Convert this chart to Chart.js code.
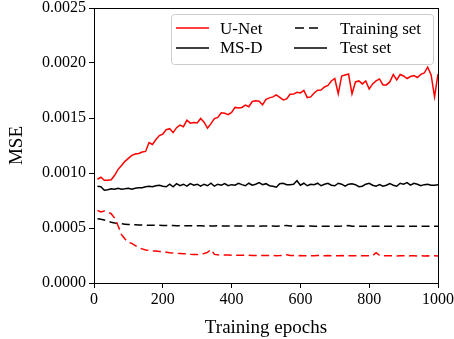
<!DOCTYPE html>
<html>
<head>
<meta charset="utf-8">
<script src="https://cdn.jsdelivr.net/npm/chart.js@4.4.0/dist/chart.umd.min.js"></script>
<style>
  html, body { margin:0; padding:0; background:#fff; }
  canvas { display:block; }
</style>
</head>
<body>
<canvas id="mseChart" width="454" height="339"></canvas>
<script>
'use strict';

/* ── DATA ──────────────────────────────────── */
const epochs = [10,20,30,40,50,60,70,80,90,100,110,120,130,140,150,160,170,180,190,200,
  210,220,230,240,250,260,270,280,290,300,310,320,330,340,350,360,370,380,390,400,
  410,420,430,440,450,460,470,480,490,500,510,520,530,540,550,560,570,580,590,600,
  610,620,630,640,650,660,670,680,690,700,710,720,730,740,750,760,770,780,790,800,
  810,820,830,840,850,860,870,880,890,900,910,920,930,940,950,960,970,980,990,1000];

const unetTest = [0.000943,0.000961,0.000934,0.000934,0.000939,0.000979,0.001033,0.001069,0.001106,0.001133,
  0.00116,0.001173,0.001178,0.001191,0.001196,0.001277,0.001259,0.001304,0.00134,0.001354,
  0.001394,0.001403,0.001367,0.001412,0.001435,0.001421,0.00148,0.001453,0.00146,0.001455,
  0.001496,0.001462,0.001408,0.001449,0.001494,0.001505,0.001548,0.001543,0.00153,0.001551,
  0.001596,0.00159,0.001596,0.001617,0.001602,0.00165,0.001656,0.001652,0.00162,0.00167,
  0.001683,0.001692,0.00171,0.001688,0.001665,0.001674,0.001715,0.001717,0.001733,0.001728,
  0.001751,0.001686,0.001692,0.001728,0.001753,0.001755,0.001782,0.001796,0.001837,0.001859,
  0.001719,0.001882,0.001891,0.0019,0.001719,0.001828,0.001837,0.00181,0.001837,0.001764,
  0.00181,0.001837,0.001855,0.001801,0.001801,0.001828,0.001895,0.001846,0.001895,0.001882,
  0.001859,0.001877,0.001886,0.001868,0.001897,0.001909,0.001963,0.001891,0.001692,0.0019];

const msdTest = [0.00088,0.000875,0.000844,0.000848,0.000857,0.000853,0.000862,0.000853,0.000857,0.000862,
  0.000853,0.000862,0.000866,0.000866,0.000875,0.00088,0.000875,0.000884,0.000889,0.00088,
  0.000875,0.000898,0.000875,0.000903,0.000884,0.000898,0.00088,0.000903,0.000889,0.000898,
  0.00088,0.000898,0.000884,0.000907,0.00088,0.000898,0.000889,0.000903,0.000884,0.000894,
  0.000889,0.000907,0.000894,0.000884,0.000907,0.000889,0.000898,0.000912,0.000894,0.000903,
  0.000884,0.00088,0.000871,0.000903,0.000907,0.000894,0.000894,0.000898,0.00093,0.000889,
  0.000907,0.000884,0.000898,0.000894,0.000907,0.000884,0.000898,0.000907,0.000889,0.000884,
  0.000907,0.000898,0.00088,0.000898,0.000903,0.000894,0.000875,0.00088,0.000898,0.000907,
  0.000889,0.00088,0.000894,0.00088,0.000889,0.000903,0.000889,0.00088,0.000907,0.000898,
  0.000912,0.000889,0.000907,0.000898,0.000884,0.000894,0.000898,0.000889,0.000889,0.000894];

const unetTrain = [0.00066,0.000645,0.000655,0.000645,0.00063,0.00059,0.00052,0.00044,0.0004,0.00037,
  0.00036,0.00034,0.00032,0.00031,0.0003,0.000296,0.000292,0.00029,0.000287,0.000283,
  0.00028,0.000276,0.000273,0.00027,0.000268,0.000266,0.000265,0.000262,0.00026,0.000258,
  0.000262,0.000268,0.000278,0.000305,0.00026,0.000256,0.000255,0.000254,0.000255,0.000253,
  0.000254,0.000252,0.000253,0.000251,0.000252,0.000251,0.00025,0.000251,0.000249,0.00025,
  0.000249,0.00025,0.000248,0.000249,0.000252,0.000257,0.000251,0.000249,0.000248,0.000249,
  0.000248,0.000249,0.000247,0.000248,0.00025,0.000248,0.000247,0.000249,0.000248,0.000247,
  0.000248,0.000249,0.000247,0.000248,0.000247,0.000248,0.000249,0.000247,0.000248,0.000247,
  0.000249,0.000275,0.000252,0.000248,0.000247,0.000248,0.000247,0.000246,0.000248,0.000247,
  0.000246,0.000247,0.000248,0.000246,0.000247,0.000246,0.000247,0.000246,0.000247,0.000246];

const msdTrain = [0.000585,0.00058,0.000572,0.000562,0.000552,0.000546,0.000541,0.000538,0.000535,0.000532,
  0.00053,0.000529,0.000528,0.000527,0.000526,0.000526,0.000525,0.000524,0.000524,0.000523,
  0.000523,0.000522,0.000522,0.000521,0.000521,0.000521,0.00052,0.00052,0.00052,0.000521,
  0.00052,0.000519,0.00052,0.000519,0.000519,0.00052,0.000519,0.000519,0.000518,0.000519,
  0.000518,0.000519,0.000518,0.000518,0.000519,0.000518,0.000518,0.000517,0.000518,0.000518,
  0.000517,0.000518,0.000517,0.000518,0.000521,0.000523,0.000518,0.000517,0.000517,0.000518,
  0.000517,0.000517,0.000518,0.000517,0.000517,0.000516,0.000517,0.000517,0.000516,0.000517,
  0.000517,0.000518,0.000521,0.000522,0.000517,0.000516,0.000517,0.000516,0.000516,0.000517,
  0.000516,0.000516,0.000517,0.000516,0.000516,0.000515,0.000516,0.000516,0.000515,0.000516,
  0.000516,0.000515,0.000516,0.000515,0.000515,0.000516,0.000515,0.000515,0.000515,0.000515];

const xTicks = [0, 200, 400, 600, 800, 1000];
const yTicks = [0, 0.0005, 0.001, 0.0015, 0.002, 0.0025];

const legendLabels = ['U-Net', 'MS-D', 'Training set', 'Test set'];
const legendColors = ['#ff0000', '#000000', '#000000', '#000000'];
const legendDashed = [false, false, true, false];

/* ── HELPERS ───────────────────────────────── */
const FONT = '"Liberation Serif", "Times New Roman", serif';
const pts = vals => vals.map((v, i) => ({ x: epochs[i], y: v }));
const DASH = [8, 4.5];

/* frame round the plot (matplotlib spines) */
const framePlugin = {
  id: 'frame',
  afterDatasetsDraw(chart) {
    const a = chart.chartArea, ctx = chart.ctx;
    ctx.save();
    ctx.strokeStyle = '#000';
    ctx.lineWidth = 1;
    ctx.strokeRect(Math.round(a.left) + 0.5, Math.round(a.top) + 0.5,
                   Math.round(a.right - a.left), Math.round(a.bottom - a.top));
    ctx.restore();
  }
};

/* two-column legend box in upper right */
const legendPlugin = {
  id: 'boxLegend',
  afterDraw(chart) {
    const ctx = chart.ctx;
    const bx = 171, by = 14, bw = 262, bh = 50, r = 3;
    ctx.save();
    ctx.beginPath();
    ctx.roundRect(bx + 0.5, by + 0.5, bw, bh, r);
    ctx.fillStyle = 'rgba(255,255,255,0.8)';
    ctx.fill();
    ctx.strokeStyle = '#cccccc';
    ctx.lineWidth = 1;
    ctx.stroke();

    const cols = [{ h0: 176, h1: 209, tx: 220 }, { h0: 294, h1: 327, tx: 340 }];
    const rows = [{ ly: 28, ty: 33.5 }, { ly: 48, ty: 53 }];
    ctx.font = '17px ' + FONT;
    ctx.textBaseline = 'alphabetic';
    legendLabels.forEach((lab, i) => {
      const c = cols[Math.floor(i / 2)], rw = rows[i % 2];
      ctx.beginPath();
      ctx.strokeStyle = legendColors[i];
      ctx.lineWidth = 1.5;
      if (legendDashed[i]) { ctx.setLineDash([9, 5]); ctx.moveTo(c.h0 + 1, rw.ly); ctx.lineTo(c.h0 + 24, rw.ly); }
      else { ctx.setLineDash([]); ctx.moveTo(c.h0, rw.ly); ctx.lineTo(c.h1, rw.ly); }
      ctx.stroke();
      ctx.setLineDash([]);
      ctx.fillStyle = '#000';
      ctx.fillText(lab, c.tx, rw.ty);
    });
    ctx.restore();
  }
};

/* ── CHART ─────────────────────────────────── */
const ds = (label, vals, color, dashed) => ({
  label, data: pts(vals), borderColor: color, backgroundColor: color,
  borderWidth: 1.5, borderDash: dashed ? DASH : [], pointRadius: 0, tension: 0, fill: false
});

new Chart(document.getElementById('mseChart'), {
  type: 'line',
  data: {
    datasets: [
      ds('U-Net test', unetTest, '#ff0000', false),
      ds('MS-D test', msdTest, '#000000', false),
      ds('U-Net training', unetTrain, '#ff0000', true),
      ds('MS-D training', msdTrain, '#000000', true),
    ]
  },
  options: {
    responsive: false,
    animation: false,
    devicePixelRatio: 1,
    layout: { padding: { top: 8, right: 16, left: 0, bottom: 0 } },
    plugins: { legend: { display: false }, tooltip: { enabled: false } },
    scales: {
      x: {
        type: 'linear', min: 0, max: 1000,
        afterBuildTicks: s => { s.ticks = xTicks.map(v => ({ value: v })); },
        afterFit: s => { s.height = 56; s.paddingLeft = 0; s.paddingRight = 0; },
        ticks: { color: '#000', font: { family: FONT, size: 16 }, padding: 2, maxRotation: 0,
                 callback: v => String(v) },
        grid: { drawOnChartArea: false, drawTicks: true, tickLength: 5, tickColor: '#000', tickWidth: 1 },
        border: { display: false },
        title: { display: true, text: 'Training epochs', color: '#000',
                 font: { family: FONT, size: 19 }, padding: { top: 0, bottom: 0 } }
      },
      y: {
        type: 'linear', min: 0, max: 0.0025,
        afterBuildTicks: s => { s.ticks = yTicks.map(v => ({ value: v })); },
        afterFit: s => { s.width = 94; s.paddingTop = 0; s.paddingBottom = 0; },
        ticks: { color: '#000', font: { family: FONT, size: 16 }, padding: 3,
                 callback: v => Number(v).toFixed(4) },
        grid: { drawOnChartArea: false, drawTicks: true, tickLength: 5, tickColor: '#000', tickWidth: 1 },
        border: { display: false },
        title: { display: true, text: 'MSE', color: '#000',
                 font: { family: FONT, size: 19 }, padding: { top: 6, bottom: 6 } }
      }
    }
  },
  plugins: [framePlugin, legendPlugin]
});
</script>
</body>
</html>
